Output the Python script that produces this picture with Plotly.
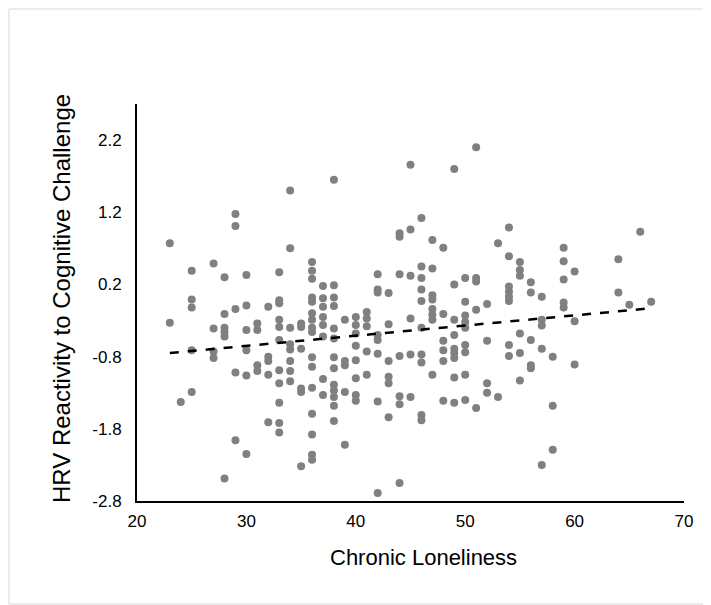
import plotly.graph_objects as go

# Chronic loneliness (x) and HRV reactivity (y), read column by column
loneliness = (
    [23]*2 + [24]*1 + [25]*5 + [27]*4 + [28]*6 + [29]*5 + [30]*6 + [31]*4 + [32]*5 +
    [33]*11 + [34]*8 + [35]*6 + [36]*16 + [37]*8 + [38]*13 + [39]*5 + [40]*8 + [41]*5 +
    [42]*8 + [43]*6 + [44]*7 + [45]*6 + [46]*10 + [47]*8 + [48]*6 + [49]*9 + [50]*9 +
    [51]*5 + [52]*4 + [53]*2 + [54]*8 + [55]*6 + [56]*5 + [57]*5 + [58]*3 + [59]*5 +
    [60]*3 + [64]*2 + [65]*1 + [66]*1 + [67]*1
)
hrv = [
    0.77, -0.33,
    -1.43,
    0.39, -0.01, -0.12, -0.71, -1.29,
    0.49, -0.41, -0.73, -0.82,
    0.30, -0.21, -0.40, -0.46, -0.52, -2.49,
    1.175, 1.01, -0.14, -1.02, -1.96,
    0.33, -0.09, -0.43, -0.71, -1.06, -2.15,
    -0.34, -0.43, -0.92, -1.00,
    -0.11, -0.80, -0.86, -1.05, -1.71,
    0.37, -0.02, -0.06, -0.29, -0.39, -0.57, -0.99, -1.17, -1.44, -1.72, -1.85,
    1.50, 0.70, -0.40, -0.63, -0.70, -0.86, -1.00, -1.14,
    -0.34, -0.39, -0.69, -1.24, -1.29, -2.32,
    0.51, 0.39, 0.28, 0.02, -0.04, -0.20, -0.29, -0.40, -0.46, -0.81, -0.94, -1.23, -1.59, -1.88, -2.16, -2.23,
    0.18, 0.01, -0.11, -0.25, -0.36, -0.52, -1.11, -1.33,
    1.65, 0.19, 0.02, -0.10, -0.41, -0.55, -0.81, -0.96, -1.19, -1.27, -1.36, -1.48, -1.69,
    -0.29, -0.86, -0.92, -1.29, -2.02,
    -0.25, -0.36, -0.48, -0.65, -0.85, -1.10, -1.33, -1.41,
    -0.18, -0.27, -0.38, -0.73, -1.05,
    0.34, 0.13, 0.09, -0.50, -0.57, -0.76, -1.42, -2.69,
    0.08, -0.35, -0.86, -1.08, -1.17, -1.64,
    0.91, 0.86, 0.34, -0.79, -1.35, -1.46, -2.55,
    1.86, 0.96, 0.32, -0.27, -0.77, -1.36,
    1.12, 0.45, 0.29, 0.13, -0.03, -0.40, -0.77, -0.88, -1.61, -1.68,
    0.815, 0.42, 0.05, -0.01, -0.14, -0.22, -0.29, -1.05,
    0.71, -0.21, -0.58, -0.71, -0.86, -1.41,
    1.80, 0.20, -0.29, -0.50, -0.69, -0.75, -0.82, -1.09, -1.44,
    0.29, -0.04, -0.23, -0.32, -0.40, -0.64, -0.74, -1.05, -1.40,
    2.10, 0.29, 0.24, -0.15, -1.51,
    -0.07, -0.58, -1.17, -1.30,
    0.77, -1.36,
    0.99, 0.59, 0.17, 0.10, 0.03, -0.03, -0.64, -0.79,
    0.51, 0.40, 0.32, -0.48, -0.75, -1.13,
    0.23, 0.09, -0.57, -0.92, -0.96,
    0.03, -0.29, -0.37, -0.69, -2.30,
    -0.80, -1.48, -2.09,
    0.71, 0.52, 0.27, -0.05, -0.12,
    0.38, -0.31, -0.91,
    0.55, 0.09,
    -0.08,
    0.93,
    -0.04,
]

# Linear trend line as drawn in the reference (end points)
trend_x = [23, 67]
trend_y = [-0.75, -0.13]

x_ticks = [20, 30, 40, 50, 60, 70]
y_ticks = [-2.8, -1.8, -0.8, 0.2, 1.2, 2.2]
x_title = "Chronic Loneliness"
y_title = "HRV Reactivity to Cognitive Challenge"

fig = go.Figure()
fig.add_trace(go.Scatter(
    x=loneliness, y=hrv, mode="markers",
    marker=dict(size=8, color="#808080"),
    showlegend=False, hoverinfo="skip",
))
fig.add_trace(go.Scatter(
    x=trend_x, y=trend_y, mode="lines",
    line=dict(color="black", width=2.5, dash="dash"),
    showlegend=False, hoverinfo="skip",
))

L, R, T, B = 129, 35, 96, 112
W, H = 711, 605
pw, ph = W - L - R, H - T - B


def px_x(p):
    return (p - L) / pw


def px_y(p):
    return ((H - B) - p) / ph


font_family = "Liberation Sans, Arial, sans-serif"
fig.update_layout(
    width=W, height=H,
    margin=dict(l=L, r=R, t=T, b=B),
    paper_bgcolor="white", plot_bgcolor="white",
    font=dict(family=font_family, color="black", size=17),
    xaxis=dict(
        range=[20, 70], tickvals=x_ticks, ticktext=[str(v) for v in x_ticks],
        showgrid=False, zeroline=False, showline=True, linecolor="black", linewidth=2,
        ticks="", tickfont=dict(size=17), ticklabelstandoff=4,
    ),
    yaxis=dict(
        range=[-2.8, 2.7], tickvals=y_ticks, ticktext=[f"{v:.1f}" for v in y_ticks],
        showgrid=False, zeroline=False, showline=True, linecolor="black", linewidth=2,
        ticks="", tickfont=dict(size=17), ticklabelstandoff=10,
    ),
    annotations=[
        dict(text=x_title, xref="paper", yref="paper", x=px_x(415), y=px_y(549),
             xanchor="center", yanchor="middle", showarrow=False,
             font=dict(size=22, family=font_family, color="black")),
        dict(text=y_title, xref="paper", yref="paper", x=px_x(53), y=px_y(291),
             xanchor="center", yanchor="middle", showarrow=False, textangle=-90,
             font=dict(size=24, family=font_family, color="black")),
    ],
    shapes=[dict(
        type="rect", xref="paper", yref="paper",
        x0=px_x(1), x1=px_x(700), y0=px_y(596), y1=px_y(1),
        line=dict(color="#D9D9D9", width=1), fillcolor="rgba(0,0,0,0)", layer="below",
    )],
)

fig.write_html("out.html")
